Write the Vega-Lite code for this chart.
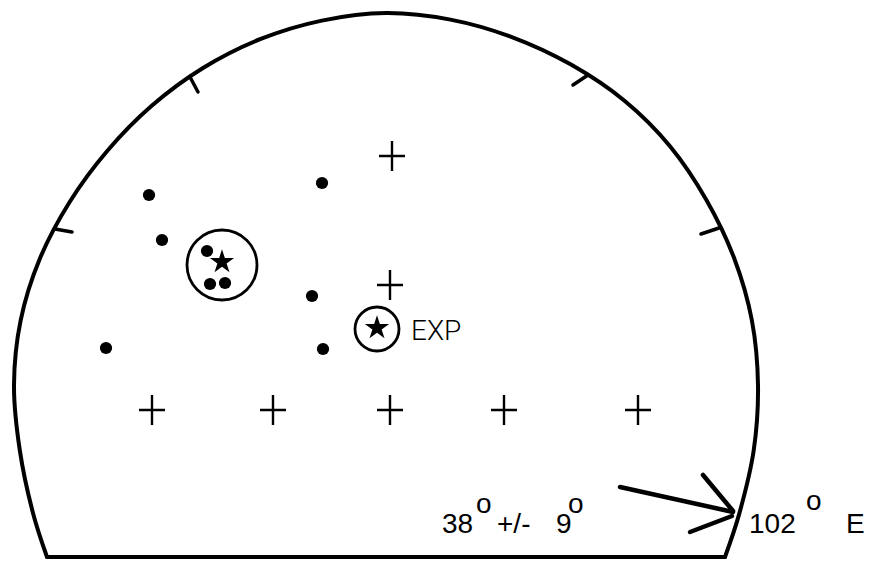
{
  "$schema": "https://vega.github.io/schema/vega-lite/v6.json",
  "width": 874,
  "height": 563,
  "padding": 0,
  "autosize": {"type": "none"},
  "background": "white",
  "config": {"view": {"stroke": null}},
  "datasets": {
    "outline": [
      {"i": 1, "x": 47, "y": 6}, {"i": 2, "x": 33.1, "y": 49.6}, {"i": 3, "x": 19.7, "y": 113.4},
      {"i": 4, "x": 14, "y": 178}, {"i": 5, "x": 20.6, "y": 242.4}, {"i": 6, "x": 39.7, "y": 304},
      {"i": 7, "x": 69.5, "y": 360.8}, {"i": 8, "x": 107.2, "y": 412}, {"i": 9, "x": 151.7, "y": 457.2},
      {"i": 10, "x": 203, "y": 495}, {"i": 11, "x": 260.1, "y": 523.8}, {"i": 12, "x": 321.8, "y": 542.4},
      {"i": 13, "x": 386, "y": 550}, {"i": 14, "x": 450.4, "y": 543.4}, {"i": 15, "x": 512.5, "y": 525.7},
      {"i": 16, "x": 571, "y": 498.4}, {"i": 17, "x": 624.5, "y": 462.2}, {"i": 18, "x": 670.2, "y": 416.5},
      {"i": 19, "x": 706.4, "y": 363}, {"i": 20, "x": 734.2, "y": 304.7}, {"i": 21, "x": 751.9, "y": 242.5},
      {"i": 22, "x": 758, "y": 178}, {"i": 23, "x": 753.8, "y": 113.2}, {"i": 24, "x": 739.3, "y": 49.4},
      {"i": 25, "x": 725, "y": 6}
    ],
    "base": [
      {"i": 1, "x": 47, "y": 6}, {"i": 2, "x": 725, "y": 6}
    ],
    "ticks": [
      {"id": "a", "i": 1, "x": 190, "y": 486}, {"id": "a", "i": 2, "x": 198, "y": 471},
      {"id": "b", "i": 1, "x": 55, "y": 334}, {"id": "b", "i": 2, "x": 72, "y": 331},
      {"id": "c", "i": 1, "x": 588, "y": 488}, {"id": "c", "i": 2, "x": 573, "y": 478},
      {"id": "d", "i": 1, "x": 719, "y": 335}, {"id": "d", "i": 2, "x": 701, "y": 329}
    ],
    "arrow": [
      {"id": "shaft", "i": 1, "x": 620, "y": 76}, {"id": "shaft", "i": 2, "x": 733, "y": 51},
      {"id": "barb1", "i": 1, "x": 703, "y": 88}, {"id": "barb1", "i": 2, "x": 733, "y": 52},
      {"id": "barb2", "i": 1, "x": 690, "y": 31}, {"id": "barb2", "i": 2, "x": 732, "y": 47}
    ],
    "poles": [
      {"x": 149, "y": 368}, {"x": 162, "y": 323}, {"x": 322, "y": 380},
      {"x": 312, "y": 267}, {"x": 106, "y": 215}, {"x": 323, "y": 214},
      {"x": 207, "y": 312}, {"x": 210, "y": 279}, {"x": 225, "y": 280}
    ],
    "meanPole": [{"x": 222, "y": 301}],
    "meanRing": [{"x": 222, "y": 298}],
    "expPole": [{"x": 377, "y": 235}],
    "expRing": [{"x": 377, "y": 234}],
    "grid": [
      {"x": 392, "y": 407}, {"x": 390, "y": 278},
      {"x": 152, "y": 153}, {"x": 273, "y": 153}, {"x": 390, "y": 153},
      {"x": 504, "y": 153}, {"x": 638, "y": 153}
    ],
    "expLabel": [{"x": 411, "y": 223, "t": "EXP"}],
    "labels": [
      {"x": 442, "y": 30, "t": "38"}, {"x": 476, "y": 50, "t": "o"},
      {"x": 497, "y": 30, "t": "+/-"}, {"x": 556, "y": 30, "t": "9"},
      {"x": 568, "y": 50, "t": "o"}, {"x": 749, "y": 30, "t": "102"},
      {"x": 806, "y": 53, "t": "o"}, {"x": 846, "y": 30, "t": "E"}
    ]
  },
  "encoding": {
    "x": {"field": "x", "type": "quantitative", "scale": {"domain": [0, 874], "nice": false, "zero": false}, "axis": null},
    "y": {"field": "y", "type": "quantitative", "scale": {"domain": [0, 563], "nice": false, "zero": false}, "axis": null}
  },
  "layer": [
    {
      "data": {"name": "outline"},
      "mark": {"type": "line", "interpolate": "catmull-rom", "color": "black", "strokeWidth": 4, "strokeCap": "round"},
      "encoding": {"order": {"field": "i", "type": "quantitative"}}
    },
    {
      "data": {"name": "base"},
      "mark": {"type": "line", "color": "black", "strokeWidth": 4, "strokeCap": "round"},
      "encoding": {"order": {"field": "i", "type": "quantitative"}}
    },
    {
      "data": {"name": "ticks"},
      "mark": {"type": "line", "color": "black", "strokeWidth": 3.5, "strokeCap": "round"},
      "encoding": {"detail": {"field": "id"}, "order": {"field": "i", "type": "quantitative"}}
    },
    {
      "data": {"name": "arrow"},
      "mark": {"type": "line", "color": "black", "strokeWidth": 4.5, "strokeCap": "round"},
      "encoding": {"detail": {"field": "id"}, "order": {"field": "i", "type": "quantitative"}}
    },
    {
      "data": {"name": "poles"},
      "mark": {"type": "point", "shape": "circle", "filled": true, "color": "black", "opacity": 1, "size": 150}
    },
    {
      "data": {"name": "meanRing"},
      "mark": {"type": "point", "shape": "circle", "filled": false, "color": "black", "opacity": 1, "strokeWidth": 2.8, "size": 4900}
    },
    {
      "data": {"name": "expRing"},
      "mark": {"type": "point", "shape": "circle", "filled": false, "color": "black", "opacity": 1, "strokeWidth": 2.8, "size": 1936}
    },
    {
      "data": {"name": "meanPole"},
      "mark": {"type": "point", "shape": "M0,-1L0.225,-0.309L0.951,-0.309L0.363,0.118L0.588,0.809L0,0.382L-0.588,0.809L-0.363,0.118L-0.951,-0.309L-0.225,-0.309Z", "filled": true, "color": "black", "opacity": 1, "size": 650}
    },
    {
      "data": {"name": "expPole"},
      "mark": {"type": "point", "shape": "M0,-1L0.225,-0.309L0.951,-0.309L0.363,0.118L0.588,0.809L0,0.382L-0.588,0.809L-0.363,0.118L-0.951,-0.309L-0.225,-0.309Z", "filled": true, "color": "black", "opacity": 1, "size": 650}
    },
    {
      "data": {"name": "grid"},
      "mark": {"type": "point", "shape": "M-1,0H1M0,-1.15V1.15", "filled": false, "color": "black", "opacity": 1, "strokeWidth": 2.4, "size": 676}
    },
    {
      "data": {"name": "expLabel"},
      "mark": {"type": "text", "align": "left", "baseline": "alphabetic", "font": "Roboto", "fontSize": 28, "fontWeight": 300, "color": "black"},
      "encoding": {"text": {"field": "t"}}
    },
    {
      "data": {"name": "labels"},
      "mark": {"type": "text", "align": "left", "baseline": "alphabetic", "font": "Liberation Sans", "fontSize": 28, "color": "black"},
      "encoding": {"text": {"field": "t"}}
    }
  ]
}
